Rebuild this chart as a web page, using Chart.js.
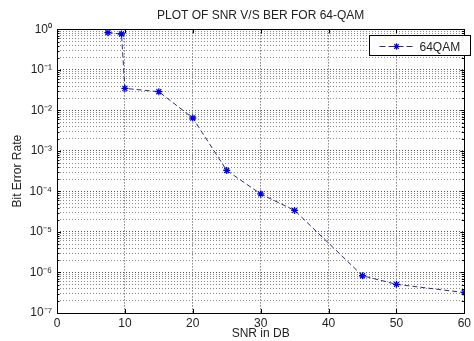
<!DOCTYPE html>
<html>
<head>
<meta charset="utf-8">
<script src="https://cdn.jsdelivr.net/npm/chart.js@4/dist/chart.umd.min.js"></script>
<style>
  html, body { margin: 0; padding: 0; background: #fff; }
  #wrap { width: 474px; height: 341px; position: relative; }
</style>
</head>
<body>
<div id="wrap"><canvas id="chart"></canvas></div>
<script>
// values
const snr = [7.5, 9.5, 10, 15, 20, 25, 30, 35, 45, 50, 60];
const ber = [0.83, 0.77, 0.035, 0.029, 0.0065, 0.00033, 0.000087, 0.000034, 8.3e-7, 5.1e-7, 3.2e-7];
const xTicks = [0, 10, 20, 30, 40, 50, 60];
const yExponents = [0, -1, -2, -3, -4, -5, -6, -7];

const SUP = { '0': '⁰', '1': '¹', '2': '²', '3': '³', '4': '⁴', '5': '⁵', '6': '⁶', '7': '⁷', '8': '⁸', '9': '⁹', '-': '⁻' };
function sup(n) {
  return String(n).split('').map(c => SUP[c]).join('');
}

// all 1..9 x 10^n positions for the log grid
const yTickValues = [];
for (let e = -7; e < 0; e++) {
  for (let m = 1; m <= 9; m++) yTickValues.push(m * Math.pow(10, e));
}
yTickValues.push(1);

function isMajor(v) {
  const l = Math.log10(v);
  return Math.abs(l - Math.round(l)) < 1e-9;
}

// box, inward ticks and legend, MATLAB style
const matlabBox = {
  id: 'matlabBox',
  afterDraw(chart) {
    const ctx = chart.ctx;
    const a = chart.chartArea;
    const xs = chart.scales.x, ys = chart.scales.y;
    ctx.save();
    ctx.strokeStyle = '#000';
    ctx.lineWidth = 1;
    ctx.setLineDash([]);
    ctx.strokeRect(Math.round(a.left) + 0.5, Math.round(a.top) + 0.5,
      Math.round(a.right - a.left), Math.round(a.bottom - a.top));

    ctx.beginPath();
    xTicks.forEach(v => {
      const px = Math.round(xs.getPixelForValue(v)) + 0.5;
      ctx.moveTo(px, a.bottom); ctx.lineTo(px, a.bottom - 4);
      ctx.moveTo(px, a.top); ctx.lineTo(px, a.top + 4);
    });
    yTickValues.forEach(v => {
      const py = Math.round(ys.getPixelForValue(v)) + 0.5;
      const len = isMajor(v) ? 4 : 2.5;
      ctx.moveTo(a.left, py); ctx.lineTo(a.left + len, py);
      ctx.moveTo(a.right, py); ctx.lineTo(a.right - len, py);
    });
    ctx.stroke();

    // legend
    const ds = chart.data.datasets[0];
    const lx = 369.5, ly = 35.5, lw = 101, lh = 20;
    ctx.fillStyle = '#fff';
    ctx.fillRect(lx, ly, lw, lh);
    ctx.strokeStyle = '#000';
    ctx.strokeRect(lx, ly, lw, lh);
    const my = Math.round(ly + lh / 2) + 0.5;
    ctx.strokeStyle = ds.borderColor;
    ctx.setLineDash([6, 3]);
    ctx.beginPath();
    ctx.moveTo(lx + 10, my); ctx.lineTo(lx + 44, my);
    ctx.stroke();
    ctx.setLineDash([]);
    ctx.strokeStyle = ds.pointBorderColor;
    ctx.lineWidth = 1.2;
    const cx = lx + 27, r = 3.2;
    ctx.beginPath();
    ctx.moveTo(cx - r, my); ctx.lineTo(cx + r, my);
    ctx.moveTo(cx, my - r); ctx.lineTo(cx, my + r);
    ctx.moveTo(cx - r * 0.7, my - r * 0.7); ctx.lineTo(cx + r * 0.7, my + r * 0.7);
    ctx.moveTo(cx - r * 0.7, my + r * 0.7); ctx.lineTo(cx + r * 0.7, my - r * 0.7);
    ctx.stroke();
    ctx.fillStyle = '#222';
    ctx.font = '12px "Liberation Sans", Arial, sans-serif';
    ctx.textAlign = 'left';
    ctx.textBaseline = 'middle';
    ctx.fillText(ds.label, lx + 50, my + 1);
    ctx.restore();
  }
};

new Chart(document.getElementById('chart'), {
  type: 'scatter',
  data: {
    datasets: [{
      label: '64QAM',
      data: snr.map((x, i) => ({ x: x, y: ber[i] })),
      showLine: true,
      borderColor: '#2b2b7a',
      borderWidth: 1,
      borderDash: [5, 3],
      pointStyle: 'star',
      pointRadius: 3.5,
      pointBorderColor: '#0000ee',
      pointBorderWidth: 1.3,
      pointBackgroundColor: '#0000ee',
      tension: 0
    }]
  },
  options: {
    responsive: true,
    maintainAspectRatio: false,
    animation: false,
    layout: { autoPadding: false, padding: { left: 0, right: 3, top: 0, bottom: 0 } },
    plugins: {
      legend: { display: false },
      tooltip: { enabled: false },
      title: {
        display: true,
        fullSize: false,
        text: 'PLOT OF SNR V/S BER FOR 64-QAM',
        color: '#222',
        font: { family: '"Liberation Sans", Arial, sans-serif', size: 12, weight: 'normal' },
        padding: { top: 8, bottom: 7 }
      }
    },
    scales: {
      x: {
        type: 'linear',
        min: 0,
        max: 60,
        afterBuildTicks(scale) { scale.ticks = xTicks.map(v => ({ value: v })); },
        afterFit(scale) { scale.height = 28; },
        ticks: {
          color: '#222',
          padding: 3,
          maxRotation: 0,
          font: { family: '"Liberation Sans", Arial, sans-serif', size: 12 }
        },
        grid: { color: '#444', lineWidth: 1, drawTicks: false },
        border: { display: false, dash: [1, 2] },
        title: {
          display: true,
          text: 'SNR in DB',
          color: '#222',
          padding: { top: 0, bottom: 0 },
          font: { family: '"Liberation Sans", Arial, sans-serif', size: 12 }
        }
      },
      y: {
        type: 'logarithmic',
        min: 1e-7,
        max: 1,
        afterBuildTicks(scale) { scale.ticks = yTickValues.map(v => ({ value: v })); },
        afterFit(scale) { scale.width = 57; },
        ticks: {
          autoSkip: false,
          color: '#222',
          padding: 5,
          font: { family: '"Liberation Sans", Arial, sans-serif', size: 12 },
          callback(v) {
            if (!isMajor(v)) return '';
            const e = Math.round(Math.log10(v));
            return yExponents.includes(e) ? '10' + sup(e) : '';
          }
        },
        grid: {
          color: ctx => (ctx.tick && isMajor(ctx.tick.value)) ? '#555' : '#8a8a8a',
          lineWidth: 1,
          drawTicks: false
        },
        border: { display: false, dash: [1, 2] },
        title: {
          display: true,
          text: 'Bit Error Rate',
          color: '#222',
          padding: { top: 10, bottom: 0 },
          font: { family: '"Liberation Sans", Arial, sans-serif', size: 12 }
        }
      }
    }
  },
  plugins: [matlabBox]
});
</script>
</body>
</html>
